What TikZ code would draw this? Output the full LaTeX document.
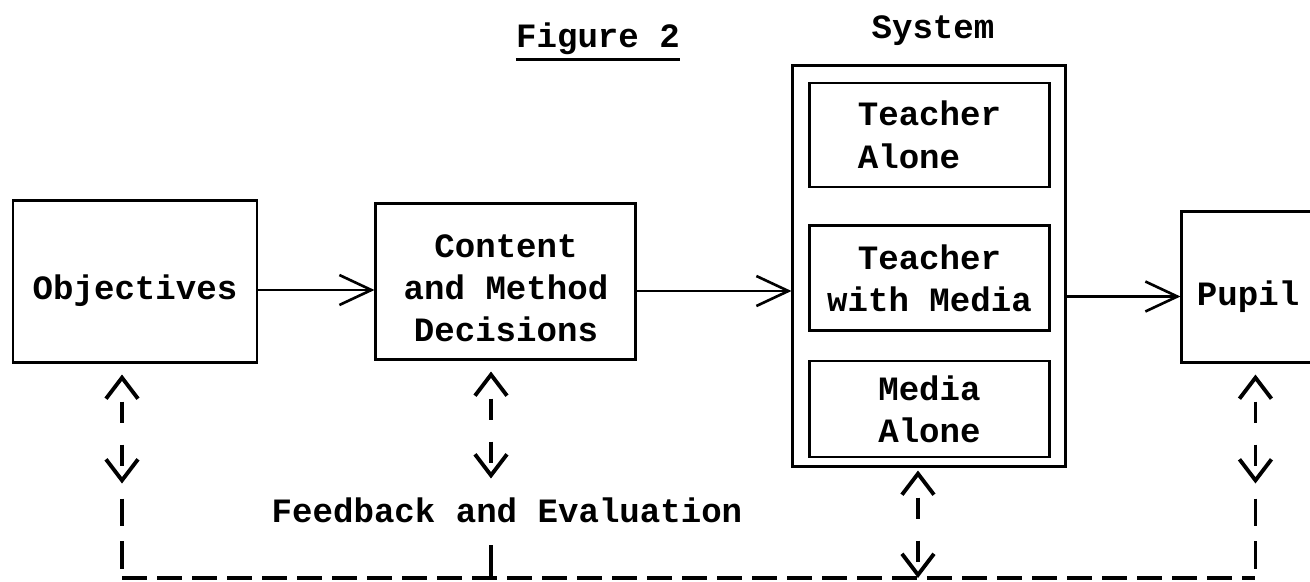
\documentclass[tikz,border=0pt]{standalone}
\usepackage{fontspec}
\usepackage{tikz}
\usetikzlibrary{arrows.meta, positioning, calc}
\newfontfamily\maquina{Liberation Mono}
\newcommand{\bajar}[1]{\raisebox{-0.2cm}[\height][\depth]{#1}}
\tikzset{
  caja/.style={rectangle, draw=black, line width=1.7pt, align=center, inner sep=2pt,
               font=\maquina\bfseries\fontsize{19.4}{24}\selectfont},
  subcaja/.style={caja, line width=1.5pt, minimum width=4.8cm},
  rotulo/.style={inner sep=0pt, font=\maquina\bfseries\fontsize{19.4}{24}\selectfont},
  flecha/.style={-{Straight Barb[length=0.64cm, width=0.6cm]}, line width=1.5pt},
  retro/.style={{Straight Barb[length=0.42cm, width=0.64cm]}-{Straight Barb[length=0.42cm, width=0.64cm]},
                line width=2.2pt, dash pattern=on 0.42cm off 0.44cm, dash phase=0.42cm},
  trazo/.style={line width=2.2pt, dash pattern=on 0.55cm off 0.3cm, dash phase=0.55cm},
  lazo/.style={line width=2.8pt, dash pattern=on 0.5cm off 0.2cm},
}
\begin{document}
\begin{tikzpicture}[node distance=0.72cm and 2.32cm]
    \useasboundingbox (0,0) rectangle (26.2,-11.62);
    \node[caja, minimum width=4.88cm, minimum height=3.24cm] (obj) at (2.70,-5.62) {\bajar{Objectives}};
    \node[caja, minimum width=5.2cm, minimum height=3.12cm, right=of obj] (cont)
        {\bajar{\begin{tabular}{@{}c@{}}Content\\and Method\\Decisions\end{tabular}}};
    \node[caja, minimum width=5.46cm, minimum height=8.02cm, right=3.08cm of cont, yshift=0.31cm] (sys) {};
    \node[subcaja, minimum height=2.08cm, align=left, below=0.36cm of sys.north] (solo) {Teacher\\Alone};
    \node[subcaja, minimum height=2.1cm, below=of solo] (conmedios) {Teacher\\with Media};
    \node[subcaja, minimum height=1.92cm, below=0.56cm of conmedios] (medios) {Media\\Alone};
    \node[caja, minimum height=3.02cm, text width=2.3cm, inner xsep=0.3cm, align=left,
          right=2.26cm of sys, yshift=-0.42cm] (alumno) {\bajar{Pupil}};

    \node[rotulo] (fig) at (11.96,-0.77) {Figure 2};
    \draw[line width=1.6pt] ([yshift=-0.1cm]fig.south west) -- ([yshift=-0.1cm]fig.south east);
    \node[rotulo] (sistema) at (18.66,-0.62) {System};
    \node[rotulo] (fb) at (10.14,-10.20) {Feedback and Evaluation};

    \draw[flecha] ([yshift=-0.18cm]obj.east) -- ([yshift=-0.18cm]obj.east -| cont.west);
    \draw[flecha] ([yshift=-0.2cm]cont.east) -- ([yshift=-0.2cm]cont.east -| sys.west);
    \draw[flecha] ([yshift=-0.2cm]alumno.west -| sys.east) -- ([yshift=-0.2cm]alumno.west);

    \coordinate (base) at (0,-11.56);
    \coordinate (a1) at ([xshift=-0.26cm, yshift=-0.22cm]obj.south);
    \coordinate (a2) at ([yshift=-2.18cm]a1);
    \coordinate (b1) at ([xshift=-0.30cm, yshift=-0.22cm]cont.south);
    \coordinate (b2) at ([yshift=-2.14cm]b1);
    \coordinate (b3) at ($(fb.south -| b1)+(0,-0.45)$);
    \coordinate (c1) at ([xshift=-0.23cm, yshift=-0.06cm]sys.south);
    \coordinate (c2) at (c1 |- base);
    \coordinate (d1) at ([xshift=0.02cm, yshift=-0.22cm]alumno.south);
    \coordinate (d2) at ([yshift=-2.18cm]d1);

    \draw[retro] (a1) -- (a2);
    \draw[trazo] (a2) -- (a1 |- base);
    \draw[retro] (b1) -- (b2);
    \draw[line width=2.2pt] (b3) -- (b1 |- base);
    \draw[retro] (c1) -- (c2);
    \draw[retro] (d1) -- (d2);
    \draw[trazo] (d2) -- (d1 |- base);
    \draw[lazo] (a1 |- base) -- (d1 |- base);
\end{tikzpicture}
\end{document}
